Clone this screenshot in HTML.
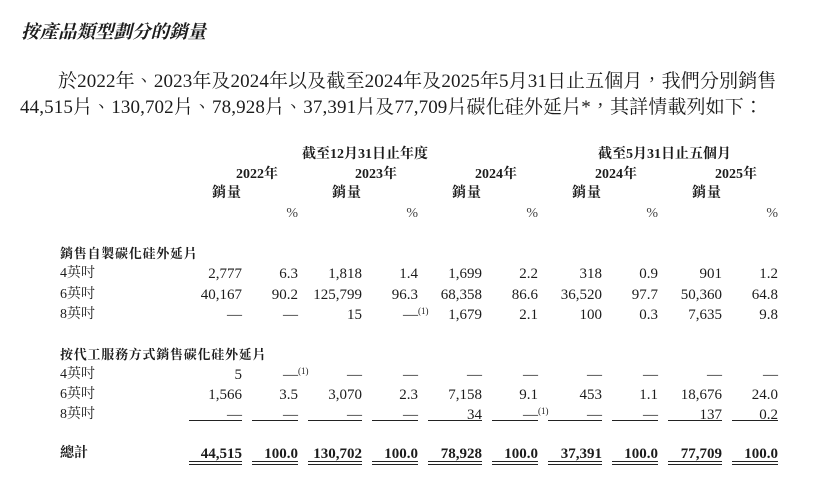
<!DOCTYPE html>
<html>
<head>
<meta charset="utf-8">
<style>
html,body{margin:0;padding:0;background:#fff;}
body{width:832px;height:478px;position:relative;overflow:hidden;color:#1c1c1c;
font-family:"Liberation Serif","Noto Serif CJK TC","Noto Serif CJK SC",serif;}
.t{position:absolute;white-space:nowrap;line-height:20px;font-size:15px;}
.b{font-weight:bold;}
.lbl{font-size:14px;}
.sec{font-size:13px;letter-spacing:0.75px;font-weight:bold;}
.hd{font-size:14px;font-weight:bold;}
.sup{position:absolute;font-size:9px;line-height:10px;}
.ln{position:absolute;height:1px;background:#222;}
.pct{font-size:14px;color:#444;}
.tb{position:absolute;left:0;top:2px;width:832px;height:478px;}
</style>
</head>
<body>
<div class="t b" style="left:21px;top:21px;font-size:18.5px;line-height:24px;font-style:italic;">按產品類型劃分的銷量</div>
<div class="t" style="left:58px;top:70px;font-size:19px;line-height:24px;letter-spacing:0.12px;">於2022年、2023年及2024年以及截至2024年及2025年5月31日止五個月，我們分別銷售</div>
<div class="t" style="left:20px;top:96px;font-size:19px;line-height:24px;letter-spacing:0.12px;">44,515片、130,702片、78,928片、37,391片及77,709片碳化硅外延片*，其詳情載列如下：</div>

<div class="tb">
<!-- header -->
<div class="t hd" style="left:302px;top:143px;">截至12月31日止年度</div>
<div class="t hd" style="left:598px;top:143px;">截至5月31日止五個月</div>

<div class="t hd" style="left:236px;top:163px;">2022年</div>
<div class="t hd" style="left:355px;top:163px;">2023年</div>
<div class="t hd" style="left:475px;top:163px;">2024年</div>
<div class="t hd" style="left:595px;top:163px;">2024年</div>
<div class="t hd" style="left:715px;top:163px;">2025年</div>

<div class="t hd" style="right:590px;top:182px;letter-spacing:1px;">銷量</div>
<div class="t hd" style="right:470px;top:182px;letter-spacing:1px;">銷量</div>
<div class="t hd" style="right:350px;top:182px;letter-spacing:1px;">銷量</div>
<div class="t hd" style="right:230px;top:182px;letter-spacing:1px;">銷量</div>
<div class="t hd" style="right:110px;top:182px;letter-spacing:1px;">銷量</div>

<div class="t pct" style="right:534px;top:202px;">%</div>
<div class="t pct" style="right:414px;top:202px;">%</div>
<div class="t pct" style="right:294px;top:202px;">%</div>
<div class="t pct" style="right:174px;top:202px;">%</div>
<div class="t pct" style="right:54px;top:202px;">%</div>

<!-- section 1 -->
<div class="t sec" style="left:60px;top:242px;">銷售自製碳化硅外延片</div>

<div class="t lbl" style="left:60px;top:262px;">4英吋</div>
<div class="t" style="right:590px;top:262px;">2,777</div>
<div class="t" style="right:534px;top:262px;">6.3</div>
<div class="t" style="right:470px;top:262px;">1,818</div>
<div class="t" style="right:414px;top:262px;">1.4</div>
<div class="t" style="right:350px;top:262px;">1,699</div>
<div class="t" style="right:294px;top:262px;">2.2</div>
<div class="t" style="right:230px;top:262px;">318</div>
<div class="t" style="right:174px;top:262px;">0.9</div>
<div class="t" style="right:110px;top:262px;">901</div>
<div class="t" style="right:54px;top:262px;">1.2</div>

<div class="t lbl" style="left:60px;top:283px;">6英吋</div>
<div class="t" style="right:590px;top:283px;">40,167</div>
<div class="t" style="right:534px;top:283px;">90.2</div>
<div class="t" style="right:470px;top:283px;">125,799</div>
<div class="t" style="right:414px;top:283px;">96.3</div>
<div class="t" style="right:350px;top:283px;">68,358</div>
<div class="t" style="right:294px;top:283px;">86.6</div>
<div class="t" style="right:230px;top:283px;">36,520</div>
<div class="t" style="right:174px;top:283px;">97.7</div>
<div class="t" style="right:110px;top:283px;">50,360</div>
<div class="t" style="right:54px;top:283px;">64.8</div>

<div class="t lbl" style="left:60px;top:303px;">8英吋</div>
<div class="t" style="right:590px;top:303px;">—</div>
<div class="t" style="right:534px;top:303px;">—</div>
<div class="t" style="right:470px;top:303px;">15</div>
<div class="t" style="right:414px;top:303px;">—</div>
<div class="sup" style="left:418px;top:304px;">(1)</div>
<div class="t" style="right:350px;top:303px;">1,679</div>
<div class="t" style="right:294px;top:303px;">2.1</div>
<div class="t" style="right:230px;top:303px;">100</div>
<div class="t" style="right:174px;top:303px;">0.3</div>
<div class="t" style="right:110px;top:303px;">7,635</div>
<div class="t" style="right:54px;top:303px;">9.8</div>

<!-- section 2 -->
<div class="t sec" style="left:60px;top:343px;">按代工服務方式銷售碳化硅外延片</div>

<div class="t lbl" style="left:60px;top:363px;">4英吋</div>
<div class="t" style="right:590px;top:363px;">5</div>
<div class="t" style="right:534px;top:363px;">—</div>
<div class="sup" style="left:298px;top:364px;">(1)</div>
<div class="t" style="right:470px;top:363px;">—</div>
<div class="t" style="right:414px;top:363px;">—</div>
<div class="t" style="right:350px;top:363px;">—</div>
<div class="t" style="right:294px;top:363px;">—</div>
<div class="t" style="right:230px;top:363px;">—</div>
<div class="t" style="right:174px;top:363px;">—</div>
<div class="t" style="right:110px;top:363px;">—</div>
<div class="t" style="right:54px;top:363px;">—</div>

<div class="t lbl" style="left:60px;top:383px;">6英吋</div>
<div class="t" style="right:590px;top:383px;">1,566</div>
<div class="t" style="right:534px;top:383px;">3.5</div>
<div class="t" style="right:470px;top:383px;">3,070</div>
<div class="t" style="right:414px;top:383px;">2.3</div>
<div class="t" style="right:350px;top:383px;">7,158</div>
<div class="t" style="right:294px;top:383px;">9.1</div>
<div class="t" style="right:230px;top:383px;">453</div>
<div class="t" style="right:174px;top:383px;">1.1</div>
<div class="t" style="right:110px;top:383px;">18,676</div>
<div class="t" style="right:54px;top:383px;">24.0</div>

<div class="t lbl" style="left:60px;top:403px;">8英吋</div>
<div class="t" style="right:590px;top:403px;">—</div>
<div class="t" style="right:534px;top:403px;">—</div>
<div class="t" style="right:470px;top:403px;">—</div>
<div class="t" style="right:414px;top:403px;">—</div>
<div class="t" style="right:350px;top:403px;">34</div>
<div class="t" style="right:294px;top:403px;">—</div>
<div class="sup" style="left:538px;top:404px;">(1)</div>
<div class="t" style="right:230px;top:403px;">—</div>
<div class="t" style="right:174px;top:403px;">—</div>
<div class="t" style="right:110px;top:403px;">137</div>
<div class="t" style="right:54px;top:403px;">0.2</div>

<!-- single underlines -->
<div class="ln" style="left:189px;width:53px;top:418px;"></div>
<div class="ln" style="left:252px;width:46px;top:418px;"></div>
<div class="ln" style="left:308px;width:54px;top:418px;"></div>
<div class="ln" style="left:372px;width:46px;top:418px;"></div>
<div class="ln" style="left:428px;width:54px;top:418px;"></div>
<div class="ln" style="left:492px;width:46px;top:418px;"></div>
<div class="ln" style="left:548px;width:54px;top:418px;"></div>
<div class="ln" style="left:612px;width:46px;top:418px;"></div>
<div class="ln" style="left:668px;width:54px;top:418px;"></div>
<div class="ln" style="left:732px;width:46px;top:418px;"></div>

<!-- totals -->
<div class="t b" style="left:60px;top:442px;font-size:14px;">總計</div>
<div class="t b" style="right:590px;top:442px;">44,515</div>
<div class="t b" style="right:534px;top:442px;">100.0</div>
<div class="t b" style="right:470px;top:442px;">130,702</div>
<div class="t b" style="right:414px;top:442px;">100.0</div>
<div class="t b" style="right:350px;top:442px;">78,928</div>
<div class="t b" style="right:294px;top:442px;">100.0</div>
<div class="t b" style="right:230px;top:442px;">37,391</div>
<div class="t b" style="right:174px;top:442px;">100.0</div>
<div class="t b" style="right:110px;top:442px;">77,709</div>
<div class="t b" style="right:54px;top:442px;">100.0</div>

<!-- double underlines -->
<div class="ln" style="left:189px;width:53px;top:459px;"></div>
<div class="ln" style="left:252px;width:46px;top:459px;"></div>
<div class="ln" style="left:308px;width:54px;top:459px;"></div>
<div class="ln" style="left:372px;width:46px;top:459px;"></div>
<div class="ln" style="left:428px;width:54px;top:459px;"></div>
<div class="ln" style="left:492px;width:46px;top:459px;"></div>
<div class="ln" style="left:548px;width:54px;top:459px;"></div>
<div class="ln" style="left:612px;width:46px;top:459px;"></div>
<div class="ln" style="left:668px;width:54px;top:459px;"></div>
<div class="ln" style="left:732px;width:46px;top:459px;"></div>

<div class="ln" style="left:189px;width:53px;top:462px;"></div>
<div class="ln" style="left:252px;width:46px;top:462px;"></div>
<div class="ln" style="left:308px;width:54px;top:462px;"></div>
<div class="ln" style="left:372px;width:46px;top:462px;"></div>
<div class="ln" style="left:428px;width:54px;top:462px;"></div>
<div class="ln" style="left:492px;width:46px;top:462px;"></div>
<div class="ln" style="left:548px;width:54px;top:462px;"></div>
<div class="ln" style="left:612px;width:46px;top:462px;"></div>
<div class="ln" style="left:668px;width:54px;top:462px;"></div>
<div class="ln" style="left:732px;width:46px;top:462px;"></div>
</div>
</body>
</html>
